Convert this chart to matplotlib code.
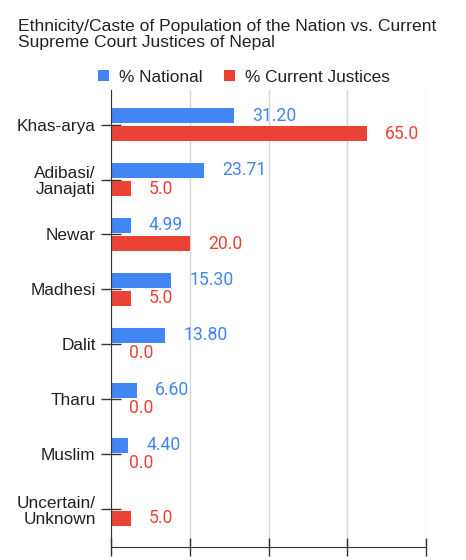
import matplotlib
matplotlib.use("Agg")
import matplotlib.pyplot as plt
import numpy as np

categories = ["Khas-arya", "Adibasi/\nJanajati", "Newar", "Madhesi", "Dalit",
              "Tharu", "Muslim", "Uncertain/\nUnknown"]
national = [31.20, 23.71, 4.99, 15.30, 13.80, 6.60, 4.40, None]
justices = [65.0, 5.0, 20.0, 5.0, 0.0, 0.0, 0.0, 5.0]
series_names = ["% National", "% Current Justices"]
xticks = [0, 20, 40, 60, 80]

BLUE = "#4285F4"
RED = "#EA4335"
TXT = "#222222"

fig = plt.figure(figsize=(4.66, 5.6), dpi=100)
ax = fig.add_axes([111/466, 1-547/560, (426-111)/466, (547-90)/560])

y = np.arange(len(categories))
off = 0.165
h = 0.27
nat_vals = [v if v is not None else 0 for v in national]
ax.barh(y - off, nat_vals, height=h, color=BLUE, zorder=3, label=series_names[0])
ax.barh(y + off, justices, height=h, color=RED, zorder=3, label=series_names[1])

for i, v in enumerate(national):
    if v is None:
        continue
    ax.annotate(f"{v:.2f}", (v, y[i] - off), xytext=(13, 0), textcoords="offset points",
                ha="left", va="center", color=BLUE, fontsize=12.7, family="Roboto")
for i, v in enumerate(justices):
    ax.annotate(f"{v:.1f}", (v, y[i] + off), xytext=(13, 0), textcoords="offset points",
                ha="left", va="center", color=RED, fontsize=12.7, family="Roboto")

ax.set_xlim(0, 80)
ax.set_ylim(7.69, -0.63)
ax.set_xticks(xticks)
ax.set_xticklabels([])
ax.set_yticks(y)
ax.set_yticklabels(categories, fontsize=12.4, color=TXT, family="Liberation Sans",
                   linespacing=1.12)
ax.tick_params(axis="y", direction="inout", length=14, width=1, color="#333333", pad=4)
ax.tick_params(axis="x", direction="inout", length=13, width=1, color="#333333")
ax.grid(axis="x", color="#d6d6d6", linewidth=1, zorder=0)
for s in ["top", "right"]:
    ax.spines[s].set_visible(False)
ax.spines["left"].set_color("#333333")
ax.spines["bottom"].set_color("#333333")
ax.spines["left"].set_zorder(4)

fig.text(18/466, 1-19/560, "Ethnicity/Caste of Population of the Nation vs. Current\nSupreme Court Justices of Nepal",
         ha="left", va="top", fontsize=12.6, color=TXT, family="Liberation Sans", linespacing=1.05)

leg = fig.legend(loc="center", bbox_to_anchor=(244/466, 1-77/560), ncol=2, frameon=False,
                 handlelength=0.65, handleheight=0.65, handletextpad=0.6,
                 columnspacing=1.2, prop={"family": "Liberation Sans", "size": 12.4})
for t in leg.get_texts():
    t.set_color(TXT)

fig.savefig("out.png", dpi=100)
